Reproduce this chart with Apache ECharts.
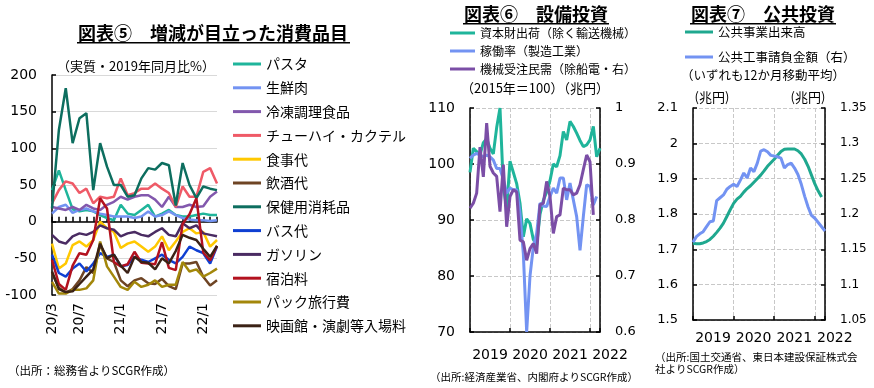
<!DOCTYPE html>
<html><head><meta charset="utf-8">
<script src="https://cdn.jsdelivr.net/npm/echarts@6/dist/echarts.min.js"></script>
<style>html,body{margin:0;padding:0;background:#fff}#c{width:874px;height:388px}</style>
</head><body><div id="c"></div>
<script>
// ---------- Panel 5: consumption items (real, % vs same month of 2019) ----------
const months = ['20/3','20/4','20/5','20/6','20/7','20/8','20/9','20/10','20/11','20/12',
  '21/1','21/2','21/3','21/4','21/5','21/6','21/7','21/8','21/9','21/10','21/11','21/12',
  '22/1','22/2','22/3'];
const monthTickLabels = ['20/3','20/7','21/1','21/7','22/1'];
const pasta      = [43,70,43,17,14,16,14,9,5,2,23,11,9,16,23,7,11,16,9,7,7,9,11,9,9];
const meat       = [11,20,23,12,16,18,14,11,9,7,7,7,5,7,14,7,9,14,9,5,3,2,2,1,2];
const frozen     = [20,18,16,20,16,23,18,16,23,27,34,30,34,36,36,30,20,34,20,20,23,20,21,34,41];
const chuhai     = [25,43,55,52,39,45,25,34,32,34,59,36,39,45,45,52,45,39,20,48,34,34,68,73,52];
const dining     = [-30,-64,-57,-32,-27,-34,-25,0,-9,-14,-36,-30,-27,-34,-41,-34,-20,-39,-27,-14,-9,-16,-14,-34,-25];
const drinking   = [-70,-90,-97,-92,-80,-62,-70,-32,-50,-55,-80,-88,-80,-77,-84,-85,-78,-88,-92,-57,-57,-55,-75,-87,-80];
const health     = [18,125,182,107,141,148,43,107,75,50,50,34,36,59,73,71,80,77,22,80,50,32,48,45,43];
const bus        = [-45,-70,-75,-64,-57,-68,-57,-43,-48,-45,-61,-59,-48,-52,-55,-50,-45,-52,-57,-48,-34,-39,-43,-57,-34];
const gasoline   = [-18,-27,-30,-20,-16,-18,-14,-5,-9,-11,-20,-16,-14,-18,-20,-14,-9,-18,-20,-2,-9,-5,-16,-18,-20];
const lodging    = [-52,-85,-93,-60,-43,-45,-25,32,18,-55,-61,-58,-41,-56,-57,-58,-28,-63,-66,-3,10,32,-42,-53,-33];
const packageTour= [-82,-98,-98,-93,-93,-91,-80,-27,-61,-75,-89,-93,-82,-89,-86,-80,-89,-86,-86,-55,-68,-65,-75,-70,-64];
const cinema     = [-68,-92,-96,-95,-85,-75,-65,-30,-50,-45,-60,-70,-48,-55,-56,-65,-50,-57,-40,-18,-22,-25,-37,-48,-33];

// ---------- Panel 6: capex (monthly from 2019/1) ----------
const yearLabels = ['2019','2020','2021','2022'];
const shipments  = [98.5,102.8,102.2,101.6,103.8,104.5,102.8,101.8,106.5,110,96,92,100.5,98.5,96.5,93,87,90.2,89.4,86.5,85.5,91,93.5,95,97,100,99.5,101.5,105.8,104.3,107.6,106.7,105.5,104.2,103.1,103.4,104.3,106.7,101.3,102.8];
const utilization= [101,101.6,101.9,101.6,101.3,101.6,101.3,100.7,99.2,99.2,97.2,94.8,95.7,95.4,95.4,91.2,84,70,80,85.2,87.6,93,92.5,92.4,94.2,95.7,94.8,97.5,97.5,93.6,96.6,93.6,90.6,84.6,90.6,96.3,96,92.7,94.2];
const orders     = [0.821,0.83,0.848,0.93,0.877,0.973,0.896,0.884,0.878,0.815,0.899,0.788,0.842,0.854,0.85,0.764,0.761,0.728,0.749,0.758,0.74,0.827,0.83,0.869,0.842,0.776,0.806,0.809,0.857,0.854,0.854,0.845,0.848,0.863,0.89,0.916,0.904,0.809];

// ---------- Panel 7: public investment (12m moving avg, monthly from 2019/1) ----------
const publicWorks= [1.717,1.716,1.716,1.718,1.722,1.728,1.737,1.748,1.76,1.774,1.793,1.812,1.83,1.842,1.85,1.862,1.872,1.88,1.89,1.9,1.91,1.922,1.935,1.945,1.955,1.966,1.977,1.983,1.984,1.984,1.984,1.979,1.97,1.955,1.935,1.91,1.885,1.865,1.848];
const contracts  = [1.160,1.168,1.172,1.175,1.182,1.189,1.19,1.219,1.223,1.227,1.235,1.239,1.242,1.239,1.248,1.258,1.251,1.265,1.260,1.272,1.289,1.291,1.288,1.283,1.282,1.281,1.279,1.265,1.270,1.272,1.265,1.256,1.242,1.225,1.210,1.198,1.194,1.188,1.182,1.176];

const FN = 'DejaVu Sans, Noto Sans CJK JP';
const FJ = 'Noto Sans CJK JP';
const p1 = [
  ['パスタ','#1fb59b',pasta],['生鮮肉','#7393f2',meat],['冷凍調理食品','#8258ad',frozen],
  ['チューハイ・カクテル','#ef5a67',chuhai],['食事代','#ffc800',dining],['飲酒代','#6e4424',drinking],
  ['保健用消耗品','#0d6e5f',health],['バス代','#0f3fd2',bus],['ガソリン','#4a2b62',gasoline],
  ['宿泊料','#b3121f',lodging],['パック旅行費','#a3870a',packageTour],['映画館・演劇等入場料','#3b2216',cinema]
];
const toXY = arr => arr.map((v,i)=>[i,v]);
const blk = {color:'#000', width:1.5};
const yearFmt = v => (v % 12 === 0 && yearLabels[v/12]) ? yearLabels[v/12] : '';

function valX(grid, margin){
  return {gridIndex:grid, type:'value', min:0, max:39, interval:12,
    axisLine:{onZero:false, lineStyle:blk}, axisTick:{inside:true, length:4, lineStyle:blk},
    axisLabel:{formatter:yearFmt, fontSize:14, color:'#000', fontFamily:FN, margin:margin, padding:[0,0,0,40]},
    splitLine:{show:true, lineStyle:{type:'dashed', color:'#c8c8c8', width:1}}};
}
function valY(grid, pos, min, max, itv, fs, split){
  return {gridIndex:grid, type:'value', position:pos, min:min, max:max, interval:itv,
    axisLine:{show:true, onZero:false, lineStyle:blk}, axisTick:{show:true, inside:true, length:4, lineStyle:blk},
    axisLabel:{fontSize:fs, color:'#000', fontFamily:FN, margin:15},
    splitLine:{show:split, lineStyle:{type:'dashed', color:'#c8c8c8', width:1}}};
}

const series = [];
p1.forEach(([n,c,d])=>series.push({name:n, type:'line', xAxisIndex:0, yAxisIndex:0, data:d,
  showSymbol:false, symbol:'none', color:c, lineStyle:{width:2.5, color:c}}));
[['資本財出荷（除く輸送機械）','#1fb59b',shipments,1],['稼働率（製造工業）','#7393f2',utilization,1],['機械受注民需（除船電・右）','#7b4ea6',orders,2]]
  .forEach(([n,c,d,y])=>series.push({name:n, type:'line', xAxisIndex:2, yAxisIndex:y, data:toXY(d),
  showSymbol:false, symbol:'none', color:c, lineStyle:{width:3, color:c}}));
[['公共事業出来高','#1fa88f',publicWorks,3],['公共工事請負金額（右）','#7393f2',contracts,4]]
  .forEach(([n,c,d,y])=>series.push({name:n, type:'line', xAxisIndex:3, yAxisIndex:y, data:toXY(d),
  showSymbol:false, symbol:'none', color:c, lineStyle:{width:3, color:c}}));

function txt(x,y,t,fs,bold,align){
  return {type:'text', silent:true, style:{x:x, y:y, text:t, fontSize:fs, fontWeight:bold?'bold':'normal',
    fontFamily:FJ, fill:'#000', textAlign:align||'center', align:align||'center', textVerticalAlign:'middle', verticalAlign:'middle'}};
}
function uline(x,y,w){ return {type:'rect', silent:true, shape:{x:x,y:y,width:w,height:1.5}, style:{fill:'#000'}}; }

const option = {
  animation:false,
  backgroundColor:'#fff',
  grid:[
    {left:52, top:75, width:165, height:220},
    {left:470, top:108, width:130, height:224},
    {left:693, top:108, width:132, height:212}
  ],
  xAxis:[
    {gridIndex:0, type:'category', data:months, boundaryGap:false, position:'bottom',
      axisLine:{show:false, onZero:false}, axisTick:{show:false},
      axisLabel:{rotate:90, interval:(i,v)=>monthTickLabels.includes(v), fontSize:14, color:'#000', margin:8, fontFamily:FN},
      splitLine:{show:false}},
    {gridIndex:0, type:'category', data:months, boundaryGap:false, position:'top',
      axisLine:{show:true, onZero:true, lineStyle:blk},
      axisTick:{show:true, inside:false, length:5, interval:0, lineStyle:blk},
      axisLabel:{show:false}, splitLine:{show:false}},
    valX(1,16),
    valX(2,11)
  ],
  yAxis:[
    {gridIndex:0, type:'value', min:-100, max:200, interval:50,
      axisLine:{show:true, onZero:false, lineStyle:blk}, axisTick:{show:true, inside:true, length:4, lineStyle:blk},
      axisLabel:{fontSize:14, color:'#000', fontFamily:FN, margin:15},
      splitLine:{show:true, lineStyle:{color:'#d9d9d9', width:1.2}}},
    valY(1,'left',70,110,10,14,true),
    valY(1,'right',0.6,1,0.1,13,false),
    valY(2,'left',1.5,2.1,0.1,13,true),
    valY(2,'right',1.05,1.35,0.05,12,false)
  ],
  legend:[
    {left:228, top:52, orient:'vertical', icon:'rect', itemWidth:28, itemHeight:3, itemGap:9.8,
      textStyle:{fontSize:14, lineHeight:14, fontFamily:FJ, color:'#000'}, data:p1.map(p=>p[0]), selectedMode:false},
    {left:445, top:22, orient:'vertical', icon:'rect', itemWidth:25, itemHeight:3, itemGap:6,
      textStyle:{fontSize:12, lineHeight:12, fontFamily:FJ, color:'#000'},
      data:['資本財出荷（除く輸送機械）','稼働率（製造工業）','機械受注民需（除船電・右）'], selectedMode:false},
    {left:680, top:20.5, orient:'vertical', icon:'rect', itemWidth:28, itemHeight:3, itemGap:12,
      textStyle:{fontSize:12.5, lineHeight:13, fontFamily:FJ, color:'#000'},
      data:['公共事業出来高','公共工事請負金額（右）'], selectedMode:false}
  ],
  graphic:[
    txt(213,33,'図表⑤　増減が目立った消費品目',18,true), uline(77,42,273),
    txt(136,66,'（実質・2019年同月比%）',13,false),
    txt(8,371,'（出所：総務省よりSCGR作成）',11.5,false,'left'),
    txt(536,14,'図表⑥　設備投資',18,true), uline(463,23,146),
    txt(535,88,'（2015年＝100）（兆円）',13,false),
    txt(430,377,'（出所:経済産業省、内閣府よりSCGR作成）',10.5,false,'left'),
    txt(763,14,'図表⑦　公共投資',18,true), uline(690,23,146),
    txt(763,75,'（いずれも12か月移動平均）',12.5,false),
    txt(712,97,'(兆円)',13,false), txt(808,97,'(兆円)',13,false),
    txt(655,357,'（出所:国土交通省、東日本建設保証株式会',10.5,false,'left'),
    txt(655,369,'社よりSCGR作成）',10.5,false,'left')
  ],
  series:series
};
const chart = echarts.init(document.getElementById('c'), null, {renderer:'canvas'});
chart.setOption(option);
</script></body></html>
